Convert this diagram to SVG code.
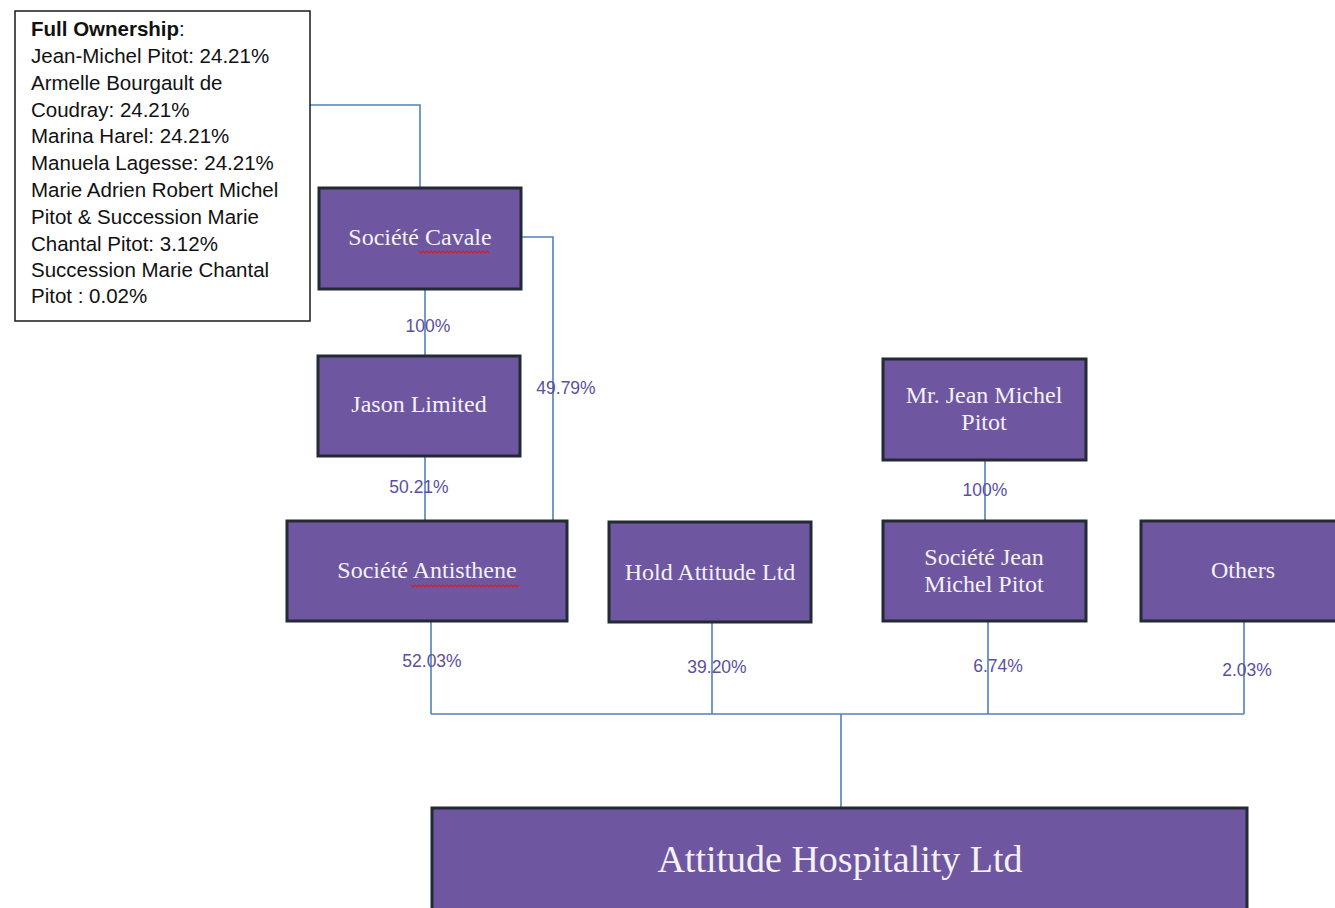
<svg xmlns="http://www.w3.org/2000/svg" width="1335" height="908" viewBox="0 0 1335 908">
<style>
.node rect{fill:#6e57a0;stroke:#222a33;stroke-width:3}
.node text{font-family:"Liberation Serif",serif;font-size:24px;fill:#f4f1f8;text-anchor:middle}
.conn{fill:none;stroke:#4f81bd;stroke-width:1.6}
.lbl{font-family:"Liberation Sans",sans-serif;font-size:17.5px;fill:#5b4f9e;text-anchor:middle}
.note{font-family:"Liberation Sans",sans-serif;font-size:20.5px;fill:#111}
.sq{fill:none;stroke:#d42020;stroke-width:1.2}
</style>
<rect width="1335" height="908" fill="#ffffff"/>
<g id="connectors">
<path class="conn" d="M310,105 H420 V188"/>
<path class="conn" d="M521,237 H553 V521"/>
<path class="conn" d="M425,289 V356"/>
<path class="conn" d="M425,456 V521"/>
<path class="conn" d="M985,460 V521"/>
<path class="conn" d="M431,621 V714 M712,622 V714 M988,621 V714 M1244,621 V714 M431,714 H1244 M841,714 V808"/>
<text class="lbl" x="428" y="332">100%</text>
<text class="lbl" x="566" y="394">49.79%</text>
<text class="lbl" x="419" y="493">50.21%</text>
<text class="lbl" x="985" y="496">100%</text>
<text class="lbl" x="432" y="667">52.03%</text>
<text class="lbl" x="717" y="673">39.20%</text>
<text class="lbl" x="998" y="672">6.74%</text>
<text class="lbl" x="1247" y="676">2.03%</text>
</g>
<g id="full-ownership">
<rect x="15" y="11" width="295" height="310" fill="#ffffff" stroke="#1a1a1a" stroke-width="1.5"/>
<text class="note"><tspan x="31" y="36" font-weight="bold">Full Ownership</tspan><tspan>:</tspan>
<tspan x="31" y="63">Jean-Michel Pitot: 24.21%</tspan>
<tspan x="31" y="90">Armelle Bourgault de</tspan>
<tspan x="31" y="117">Coudray: 24.21%</tspan>
<tspan x="31" y="143">Marina Harel: 24.21%</tspan>
<tspan x="31" y="170">Manuela Lagesse: 24.21%</tspan>
<tspan x="31" y="197">Marie Adrien Robert Michel</tspan>
<tspan x="31" y="224">Pitot &amp; Succession Marie</tspan>
<tspan x="31" y="251">Chantal Pitot: 3.12%</tspan>
<tspan x="31" y="277">Succession Marie Chantal</tspan>
<tspan x="31" y="303">Pitot : 0.02%</tspan></text>
</g>
<g id="societe-cavale" class="node">
<rect x="319" y="188" width="202" height="101"/>
<text x="420" y="245">Société Cavale</text>
<path class="sq" d="M419,251 l2,2 l2,-2 l2,2 l2,-2 l2,2 l2,-2 l2,2 l2,-2 l2,2 l2,-2 l2,2 l2,-2 l2,2 l2,-2 l2,2 l2,-2 l2,2 l2,-2 l2,2 l2,-2 l2,2 l2,-2 l2,2 l2,-2 l2,2 l2,-2 l2,2 l2,-2 l2,2 l2,-2 l2,2 l2,-2 l2,2 l2,-2 l2,2"/>
</g>
<g id="jason-limited" class="node">
<rect x="318" y="356" width="202" height="100"/>
<text x="419" y="412">Jason Limited</text>
</g>
<g id="societe-antisthene" class="node">
<rect x="287" y="521" width="280" height="100"/>
<text x="427" y="578">Société Antisthene</text>
<path class="sq" d="M411,585 l2,2 l2,-2 l2,2 l2,-2 l2,2 l2,-2 l2,2 l2,-2 l2,2 l2,-2 l2,2 l2,-2 l2,2 l2,-2 l2,2 l2,-2 l2,2 l2,-2 l2,2 l2,-2 l2,2 l2,-2 l2,2 l2,-2 l2,2 l2,-2 l2,2 l2,-2 l2,2 l2,-2 l2,2 l2,-2 l2,2 l2,-2 l2,2 l2,-2 l2,2 l2,-2 l2,2 l2,-2 l2,2 l2,-2 l2,2 l2,-2 l2,2 l2,-2 l2,2 l2,-2 l2,2 l2,-2 l2,2 l2,-2 l2,2 l2,-2"/>
</g>
<g id="hold-attitude" class="node">
<rect x="609" y="522" width="202" height="100"/>
<text x="710" y="580">Hold Attitude Ltd</text>
</g>
<g id="mr-jean-michel-pitot" class="node">
<rect x="883" y="359" width="203" height="101"/>
<text x="984" y="403">Mr. Jean Michel</text>
<text x="984" y="430">Pitot</text>
</g>
<g id="societe-jean-michel-pitot" class="node">
<rect x="883" y="521" width="203" height="100"/>
<text x="984" y="565">Société Jean</text>
<text x="984" y="592">Michel Pitot</text>
</g>
<g id="others" class="node">
<rect x="1141" y="521" width="206" height="100"/>
<text x="1243" y="578">Others</text>
</g>
<g id="attitude-hospitality" class="node">
<rect x="432" y="808" width="815" height="110"/>
<text x="840" y="872" style="font-size:38px">Attitude Hospitality Ltd</text>
</g>
</svg>
